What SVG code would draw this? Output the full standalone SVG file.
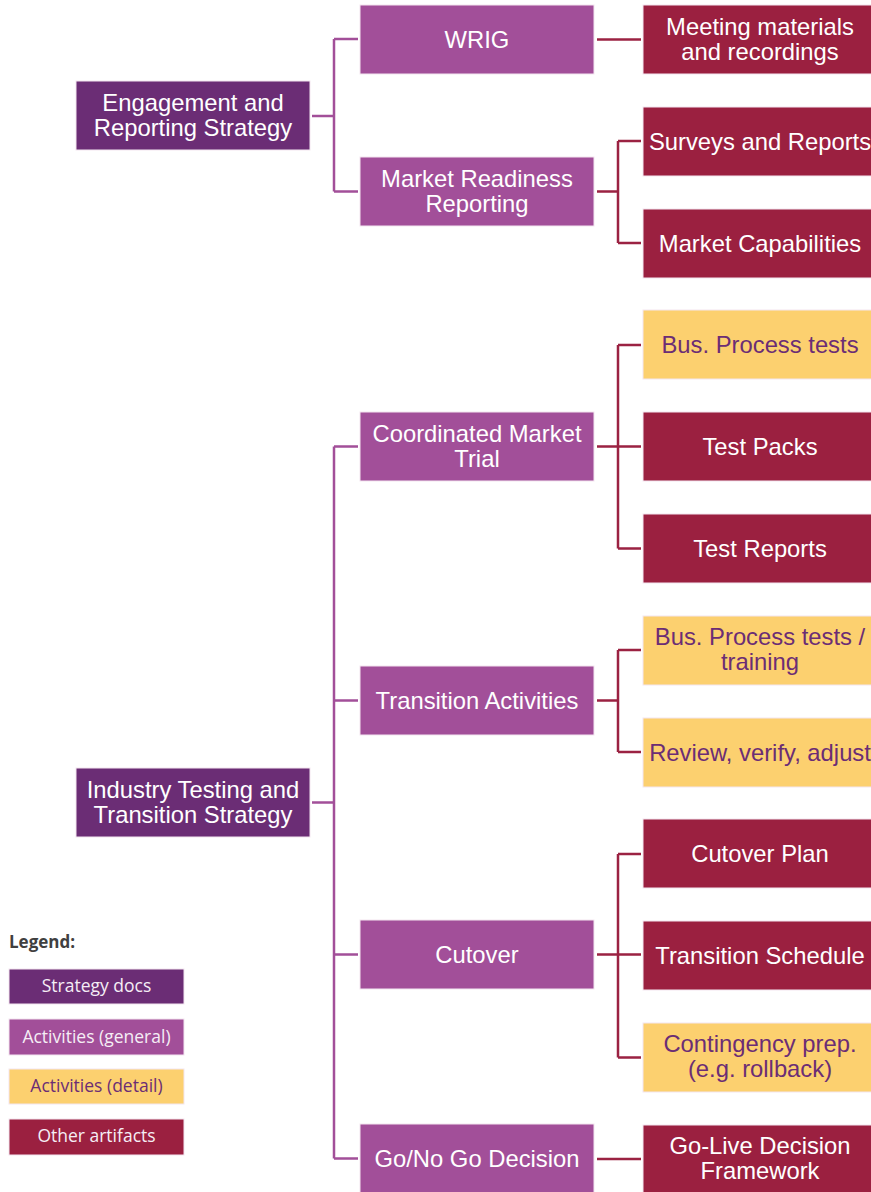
<svg xmlns="http://www.w3.org/2000/svg" width="871" height="1192" viewBox="0 0 871 1192">
<style>
.box{stroke:#f3e6f0;stroke-width:1}
.strat{fill:#6b2d75}
.gen{fill:#a24f99}
.det{fill:#fcd06f}
.oth{fill:#9b2040}
.t{font-family:"Liberation Sans",Arial,sans-serif;font-size:23.8px;text-anchor:middle;fill:#ffffff}
.td{fill:#6b2d75}
.lt{font-family:"Open Sans","Noto Sans",sans-serif;font-size:17.5px;text-anchor:middle;fill:#f5eef5}
.cp{fill:none;stroke:#a24f99;stroke-width:2.5}
.cr{fill:none;stroke:#9b2242;stroke-width:2.5}
</style>
<rect width="871" height="1192" fill="#ffffff"/>
<g id="connectors">
<path class="cp" d="M312 116H334M334 39V191.5M334 39H358M334 191.5H358"/>
<path class="cp" d="M312 802.5H334M334 446.5V1158.5M334 446.5H358M334 700.5H358M334 954.5H358M334 1158.5H358"/>
<path class="cr" d="M597 39.5H641"/>
<path class="cr" d="M597 191.5H618M618 141V243M618 141H641M618 243H641"/>
<path class="cr" d="M597 446.5H641M618 345V548.5M618 345H641M618 548.5H641"/>
<path class="cr" d="M597 700.5H618M618 650V752M618 650H641M618 752H641"/>
<path class="cr" d="M597 954.5H641M618 854V1057.5M618 854H641M618 1057.5H641"/>
<path class="cr" d="M597 1159H641"/>
</g>
<g id="n-engagement"><rect class="box strat" x="76" y="81" width="234" height="69"/><text class="t" x="193" y="111">Engagement and</text><text class="t" x="193" y="136">Reporting Strategy</text></g>
<g id="n-industry"><rect class="box strat" x="76" y="768" width="234" height="69"/><text class="t" x="193" y="798">Industry Testing and</text><text class="t" x="193" y="823">Transition Strategy</text></g>
<g id="n-wrig"><rect class="box gen" x="360" y="5" width="234" height="69"/><text class="t" x="477" y="48">WRIG</text></g>
<g id="n-mrr"><rect class="box gen" x="360" y="157" width="234" height="69"/><text class="t" x="477" y="187">Market Readiness</text><text class="t" x="477" y="212">Reporting</text></g>
<g id="n-cmt"><rect class="box gen" x="360" y="412" width="234" height="69"/><text class="t" x="477" y="442">Coordinated Market</text><text class="t" x="477" y="467">Trial</text></g>
<g id="n-ta"><rect class="box gen" x="360" y="666" width="234" height="69"/><text class="t" x="477" y="709">Transition Activities</text></g>
<g id="n-cut"><rect class="box gen" x="360" y="920" width="234" height="69"/><text class="t" x="477" y="963">Cutover</text></g>
<g id="n-gng"><rect class="box gen" x="360" y="1124" width="234" height="69"/><text class="t" x="477" y="1167">Go/No Go Decision</text></g>
<g id="n-meet"><rect class="box oth" x="643" y="5" width="234" height="69"/><text class="t" x="760" y="35">Meeting materials</text><text class="t" x="760" y="60">and recordings</text></g>
<g id="n-surv"><rect class="box oth" x="643" y="107" width="234" height="69"/><text class="t" x="760" y="150">Surveys and Reports</text></g>
<g id="n-mcap"><rect class="box oth" x="643" y="209" width="234" height="69"/><text class="t" x="760" y="252">Market Capabilities</text></g>
<g id="n-bpt"><rect class="box det" x="643" y="310" width="234" height="69"/><text class="t td" x="760" y="353">Bus. Process tests</text></g>
<g id="n-tp"><rect class="box oth" x="643" y="412" width="234" height="69"/><text class="t" x="760" y="455">Test Packs</text></g>
<g id="n-tr"><rect class="box oth" x="643" y="514" width="234" height="69"/><text class="t" x="760" y="557">Test Reports</text></g>
<g id="n-bptt"><rect class="box det" x="643" y="616" width="234" height="69"/><text class="t td" x="760" y="645">Bus. Process tests /</text><text class="t td" x="760" y="670">training</text></g>
<g id="n-rva"><rect class="box det" x="643" y="718" width="234" height="69"/><text class="t td" x="760" y="761">Review, verify, adjust</text></g>
<g id="n-cp"><rect class="box oth" x="643" y="819" width="234" height="69"/><text class="t" x="760" y="862">Cutover Plan</text></g>
<g id="n-ts"><rect class="box oth" x="643" y="921" width="234" height="69"/><text class="t" x="760" y="964">Transition Schedule</text></g>
<g id="n-cont"><rect class="box det" x="643" y="1023" width="234" height="69"/><text class="t td" x="760" y="1052">Contingency prep.</text><text class="t td" x="760" y="1077">(e.g. rollback)</text></g>
<g id="n-glf"><rect class="box oth" x="643" y="1125" width="234" height="69"/><text class="t" x="760" y="1154">Go-Live Decision</text><text class="t" x="760" y="1179">Framework</text></g>
<g id="legend">
<text x="9" y="948" font-family="'Open Sans','Noto Sans',sans-serif" font-size="17px" font-weight="bold" fill="#404040">Legend:</text>
<rect class="box strat" x="9" y="969" width="175" height="35"/><text class="lt" x="96.5" y="992">Strategy docs</text>
<rect class="box gen" x="9" y="1019" width="175" height="36"/><text class="lt" x="96.5" y="1043">Activities (general)</text>
<rect class="box det" x="9" y="1069" width="175" height="35"/><text class="lt" x="96.5" y="1092" style="fill:#6b2d75">Activities (detail)</text>
<rect class="box oth" x="9" y="1119" width="175" height="36"/><text class="lt" x="96.5" y="1142">Other artifacts</text>
</g>
</svg>
